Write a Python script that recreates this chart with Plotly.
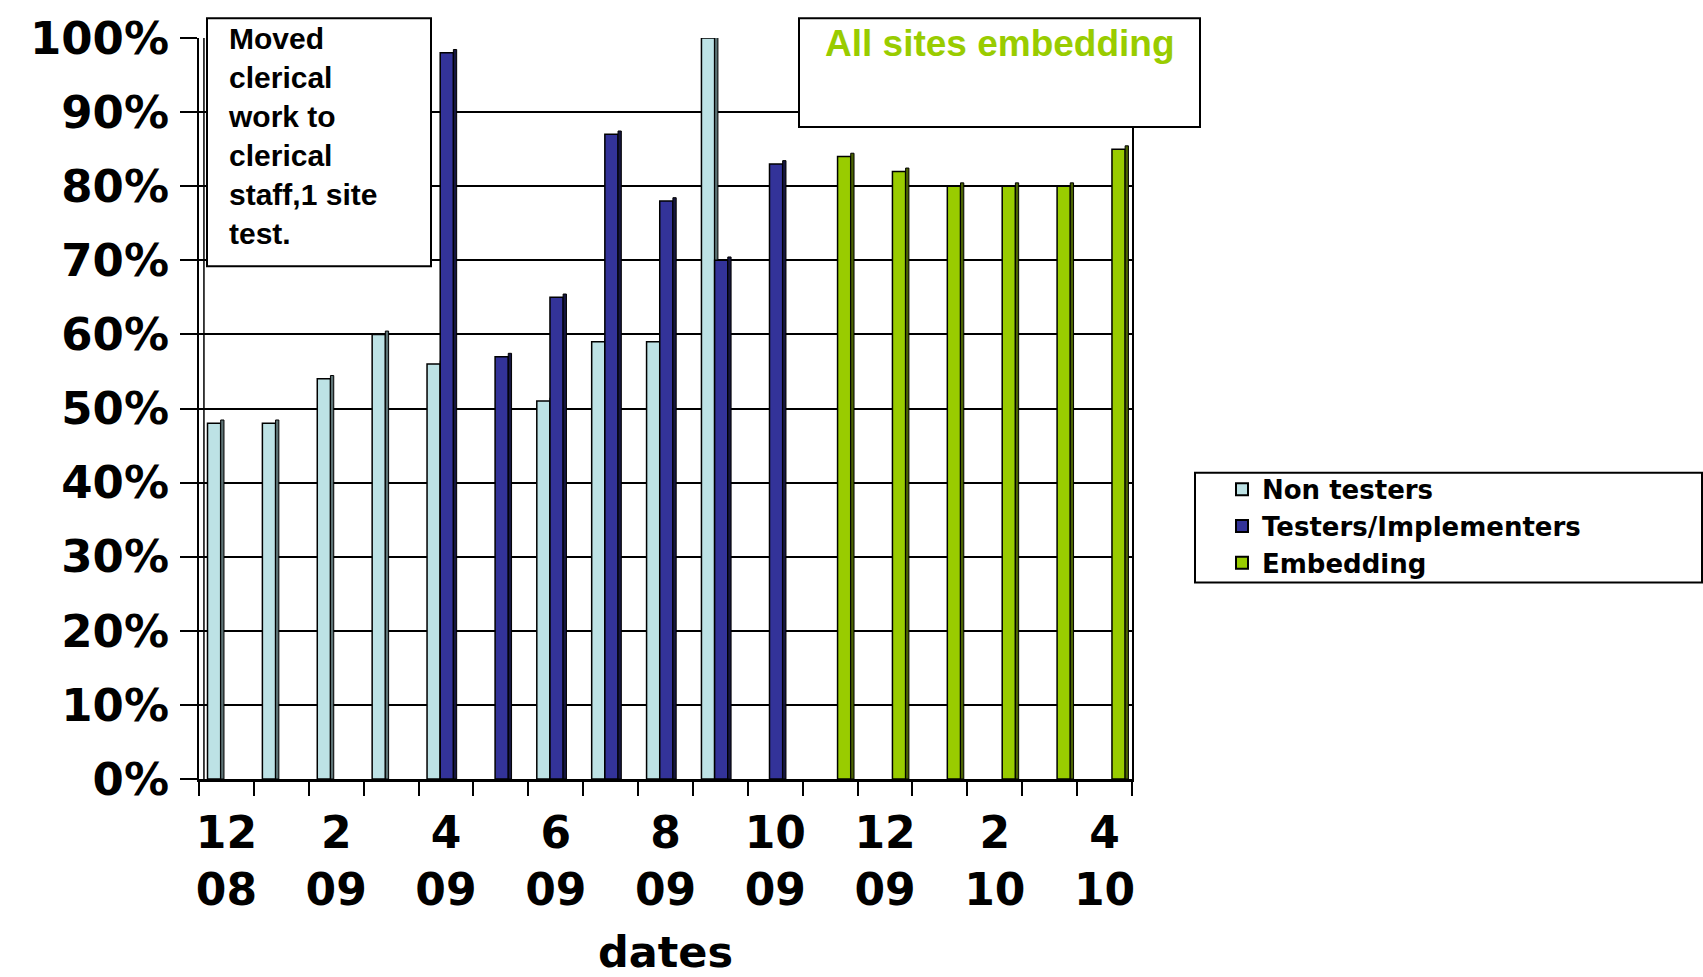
import plotly.graph_objects as go

# Monthly survey results, Dec 2008 – Apr 2010
months = ["12/08", "1/09", "2/09", "3/09", "4/09", "5/09", "6/09", "7/09", "8/09",
          "9/09", "10/09", "11/09", "12/09", "1/10", "2/10", "3/10", "4/10"]
non_testers = [48, 48, 54, 60, 56, None, 51, 59, 59, 100,
               None, None, None, None, None, None, None]
testers = [None, None, None, None, 98, 57, 65, 87, 78, 70,
           83, None, None, None, None, None, None]
embedding = [None, None, None, None, None, None, None, None, None, None,
             None, 84, 82, 80, 80, 80, 85]
y_ticks = [0, 10, 20, 30, 40, 50, 60, 70, 80, 90, 100]

W, H = 1703, 977
L, R, T, B = 199, 1132, 29, 779   # plot area in pixels


def px(xp):
    return (xp - L) / (R - L)


def py(yp):
    return (B - yp) / (B - T)


x = list(range(len(months)))
# every second month is labelled, month on top and year below
tick_idx = x[::2]
tick_text = ["<br>".join(months[i].split("/")) for i in tick_idx]

BAR_W = 0.24
SIDE_W = 0.06
series = [
    ("Non testers", non_testers, "#BDE2E5", "#5C7274", -0.345),
    ("Testers/Implementers", testers, "#333399", "#16163F", -0.105),
    ("Embedding", embedding, "#99CC00", "#4A6300", 0.135),
]

fig = go.Figure()
for name, vals, face, side, off in series:
    fig.add_trace(go.Bar(
        name=name, x=x, y=vals, offset=off, width=BAR_W,
        marker=dict(color=face, line=dict(color="black", width=1.5)),
        hoverinfo="skip",
    ))
    # darker right-hand face giving the bars some depth
    fig.add_trace(go.Bar(
        x=x, y=[v + 0.45 if v is not None else None for v in vals],
        offset=off + BAR_W, width=SIDE_W, showlegend=False,
        marker=dict(color=side, line=dict(color="black", width=1)),
        hoverinfo="skip",
    ))


def box(x0, y0, x1, y1):
    return dict(type="rect", xref="paper", yref="paper", layer="above",
                x0=px(x0), x1=px(x1), y0=py(y1), y1=py(y0),
                line=dict(color="black", width=2), fillcolor="white")


fig.update_layout(
    width=W, height=H,
    margin=dict(l=L, r=W - R, t=T, b=H - B, pad=0),
    barmode="overlay",
    plot_bgcolor="white", paper_bgcolor="white",
    showlegend=True,
    legend=dict(
        x=px(1222), y=py(462), xanchor="left", yanchor="top",
        font=dict(family="DejaVu Sans", size=26, color="black", weight="bold"),
        bgcolor="rgba(0,0,0,0)", borderwidth=0,
        tracegroupgap=0, itemsizing="constant",
    ),
    xaxis=dict(
        range=[-0.5, len(months) - 0.5],
        tickmode="array", tickvals=tick_idx, ticktext=tick_text,
        ticks="", tickfont=dict(family="DejaVu Sans", size=44, color="black", weight="bold"),
        ticklabelstandoff=13,
        showline=True, linecolor="black", linewidth=3,
        showgrid=False, zeroline=False,
        minor=dict(tickvals=[i - 0.5 for i in range(len(months) + 1)],
                   ticks="outside", ticklen=14, tickwidth=2, tickcolor="black",
                   showgrid=False),
    ),
    yaxis=dict(
        range=[0, 100], tickmode="array", tickvals=y_ticks,
        ticktext=[f"{v}%" for v in y_ticks],
        ticks="outside", ticklen=17, tickwidth=2, tickcolor="black",
        ticklabelstandoff=2,
        tickfont=dict(family="DejaVu Sans", size=45, color="black", weight="bold"),
        showgrid=True, gridcolor="black", gridwidth=2,
        showline=True, linecolor="black", linewidth=2, mirror=True,
        zeroline=False,
    ),
    shapes=[
        # inner edge of the back wall
        dict(type="line", xref="x", yref="y", x0=-0.41, x1=-0.41, y0=0, y1=100,
             line=dict(color="black", width=1.5)),
        # note boxes
        box(207, 9, 431, 260),
        box(799, 9, 1200, 119),
        # legend frame
        dict(type="rect", xref="paper", yref="paper",
             x0=px(1195), x1=px(1702), y0=py(580), y1=py(469),
             line=dict(color="black", width=2), fillcolor="rgba(0,0,0,0)"),
    ],
    annotations=[
        dict(text="Moved<br>clerical<br>work to<br>clerical<br>staff,1 site<br>test.",
             xref="paper", yref="paper", x=px(226), y=py(128),
             xanchor="left", yanchor="middle", showarrow=False, align="left",
             font=dict(family="Liberation Sans", size=30, color="black", weight="bold")),
        dict(text="All sites embedding",
             xref="paper", yref="paper", x=px(1000), y=py(35),
             xanchor="center", yanchor="middle", showarrow=False,
             font=dict(family="Liberation Sans", size=37, color="#99CC00", weight="bold")),
        dict(text="dates", xref="paper", yref="paper", x=0.5, y=py(976),
             xanchor="center", yanchor="bottom", showarrow=False, yshift=-5,
             font=dict(family="DejaVu Sans", size=43, color="black", weight="bold")),
    ],
)

fig.write_html("out.html")
